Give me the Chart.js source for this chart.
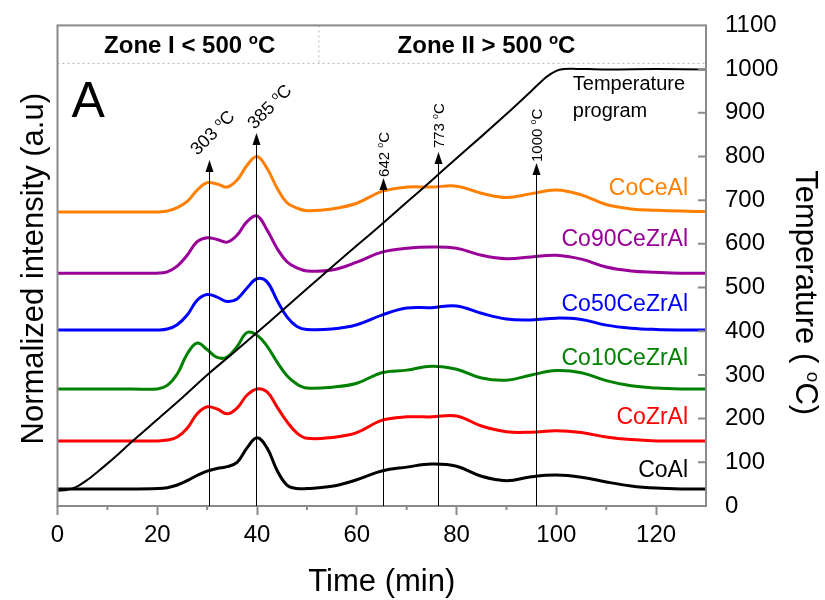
<!DOCTYPE html>
<html><head><meta charset="utf-8">
<script src="https://cdn.jsdelivr.net/npm/chart.js@4"></script>
<style>html,body{margin:0;padding:0;background:#fff}</style>
</head><body>
<canvas id="c" width="825" height="600"></canvas>
<script>
// ---------- data ----------
const times = [0,5,10,15,20,22,24,26,28,30,32,34,36,38,40,42,44,46,48,50,55,60,65,70,75,80,85,90,95,100,105,110,115,120,125,130];
const coAl      = [39,39,39,39,40,42,48,58,70,80,86,90,100,133,156,133,82,48,40,40,45,60,80,89,96,91,68,58,67,71,66,55,46,41,39,39];
const coZrAl    = [149,149,149,149,149,151,158,178,211,227,222,211,224,254,268,261,227,193,167,155,157,168,196,204,204,206,183,170,169,172,168,158,152,149,149,149];
const co10CeZrAl= [268,268,268,268,268,276,302,348,373,358,340,341,365,397,391,366,330,298,279,270,272,281,305,311,320,313,293,288,300,310,305,287,275,270,268,268];
const co50CeZrAl= [403,403,403,403,403,405,415,437,471,484,478,468,474,499,520,513,471,433,411,404,405,415,437,453,454,458,441,428,426,430,427,414,407,404,403,403];
const co90CeZrAl= [533,533,533,533,533,536,549,574,605,614,610,604,620,651,664,632,590,559,545,538,540,558,581,590,593,590,574,566,570,574,565,547,538,535,533,533];
const coCeAl    = [673,673,673,673,673,675,683,697,723,740,737,730,746,780,800,773,728,694,682,676,680,693,720,730,730,732,716,706,715,723,712,690,680,677,675,674];

const tempTimes  = [0,2,4,6,8,10,12,15,20,25,30,35,40,45,50,55,60,65,70,75,80,85,90,95,98,100,101.5,103,110,120,130];
const tempValues = [35,37,45,60,78,97,117,148,198,248,300,348,397,447,497,547,596,645,695,745,796,846,897,950,982,996,1000,1001,999,1000,999];

const seriesNames  = ['CoAl','CoZrAl','Co10CeZrAl','Co50CeZrAl','Co90CeZrAl','CoCeAl'];
const seriesColors = ['#000000','#ff0000','#008000','#0000ff','#990099','#ff8000'];
const seriesLabelLevels = [66,188,323,446,595,712];

const peakTimes  = [30.4, 39.7, 65.2, 76.2, 96.0];
const peakTips   = [792, 854, 751, 810, 785];
const peakLabels = ['303 ºC','385 ºC','642 ºC','773 ºC','1000 ºC'];

const xMin = 0, xMax = 130, xStep = 20;
const tMin = 0, tMax = 1100, tStep = 100;
const zoneDivideTime = 52.4, headerLevel = 1013;

// ---------- drawing helpers ----------
const FONT = '"Liberation Sans", Arial, Helvetica, sans-serif';
function rich(ctx, text, x, y, size, o) {
  o = o || {};
  const weight = o.weight || 'normal';
  const parts = []; let buf = '';
  for (const ch of text) {
    if (ch === 'º') { if (buf) parts.push({t: buf, s: false}); buf = ''; parts.push({t: 'o', s: true}); }
    else buf += ch;
  }
  if (buf) parts.push({t: buf, s: false});
  const nf = weight + ' ' + size + 'px ' + FONT;
  const sf = weight + ' ' + Math.round(size * 0.62) + 'px ' + FONT;
  let total = 0;
  for (const p of parts) { ctx.font = p.s ? sf : nf; p.w = ctx.measureText(p.t).width; total += p.w; }
  ctx.save();
  ctx.translate(x, y); ctx.rotate(o.rot || 0);
  ctx.fillStyle = o.color || '#000'; ctx.textBaseline = 'alphabetic'; ctx.textAlign = 'left';
  let cx = o.align === 'right' ? -total : (o.align === 'center' ? -total / 2 : 0);
  for (const p of parts) { ctx.font = p.s ? sf : nf; ctx.fillText(p.t, cx, p.s ? -size * 0.36 : 0); cx += p.w; }
  ctx.restore();
}

const labelStyles = [
  {rot: -Math.PI/4, dx: -12, dy: -4, size: 18},
  {rot: -Math.PI/4, dx: -2,  dy: -3, size: 18},
  {rot: -Math.PI/2, dx: 5,   dy: -1, size: 15},
  {rot: -Math.PI/2, dx: 5,   dy: -4, size: 15},
  {rot: -Math.PI/2, dx: 5,   dy: -1, size: 15}
];

const decor = {
  id: 'decor',
  afterDatasetsDraw(chart) {
    const ctx = chart.ctx, xs = chart.scales.x, yT = chart.scales.yT, a = chart.chartArea;
    ctx.save();
    // header band dashed lines
    ctx.strokeStyle = '#b5b5b5'; ctx.lineWidth = 1; ctx.setLineDash([2, 3]);
    const yH = yT.getPixelForValue(headerLevel);
    const xD = xs.getPixelForValue(zoneDivideTime);
    ctx.beginPath(); ctx.moveTo(a.left, yH); ctx.lineTo(a.right, yH);
    ctx.moveTo(xD, a.top); ctx.lineTo(xD, yH); ctx.stroke();
    ctx.setLineDash([]);
    // frame
    ctx.strokeStyle = '#8a8a8a'; ctx.lineWidth = 2;
    ctx.strokeRect(a.left, a.top, a.right - a.left, a.bottom - a.top);
    // minor x ticks
    ctx.beginPath();
    for (let v = xMin + xStep / 2; v < xMax; v += xStep) {
      const px = xs.getPixelForValue(v);
      ctx.moveTo(px, a.bottom); ctx.lineTo(px, a.bottom + 4);
    }
    ctx.stroke();
    // inward right ticks
    ctx.beginPath();
    for (let v = tMin + tStep; v < tMax; v += tStep) {
      const py = yT.getPixelForValue(v);
      ctx.moveTo(a.right, py); ctx.lineTo(a.right - 8, py);
    }
    ctx.stroke();
    // arrows
    ctx.strokeStyle = '#000'; ctx.fillStyle = '#000'; ctx.lineWidth = 1;
    peakTimes.forEach((t, i) => {
      const px = Math.round(xs.getPixelForValue(t)) + 0.5;
      const tip = yT.getPixelForValue(peakTips[i]);
      ctx.beginPath(); ctx.moveTo(px, a.bottom); ctx.lineTo(px, tip + 10); ctx.stroke();
      ctx.beginPath(); ctx.moveTo(px, tip); ctx.lineTo(px - 4, tip + 12); ctx.lineTo(px + 4, tip + 12); ctx.closePath(); ctx.fill();
      const st = labelStyles[i];
      rich(ctx, peakLabels[i], px + st.dx, tip + st.dy, st.size, {rot: st.rot});
    });
    // zone texts
    rich(ctx, 'Zone I < 500 ºC', xs.getPixelForValue(26.5), yT.getPixelForValue(1037), 24, {weight: 'bold', align: 'center'});
    rich(ctx, 'Zone II > 500 ºC', xs.getPixelForValue(86), yT.getPixelForValue(1037), 24, {weight: 'bold', align: 'center'});
    // panel letter
    rich(ctx, 'A', xs.getPixelForValue(2.8), yT.getPixelForValue(890), 50);
    // temperature program text
    rich(ctx, 'Temperature', xs.getPixelForValue(103.3), yT.getPixelForValue(952), 20);
    rich(ctx, 'program', xs.getPixelForValue(103.3), yT.getPixelForValue(890), 20);
    // series labels
    seriesNames.forEach((n, i) => {
      rich(ctx, n, xs.getPixelForValue(126.4), yT.getPixelForValue(seriesLabelLevels[i]), 23, {align: 'right', color: seriesColors[i]});
    });
    // axis titles
    rich(ctx, 'Normalized intensity (a.u)', 43, (a.top + a.bottom) / 2 + 3, 31, {rot: -Math.PI / 2, align: 'center'});
    rich(ctx, 'Temperature ( ºC)', 796, (a.top + a.bottom) / 2 + 27, 31, {rot: Math.PI / 2, align: 'center'});
    rich(ctx, 'Time (min)', (a.left + a.right) / 2, 591, 31, {align: 'center'});
    ctx.restore();
  }
};

const seriesData = [coAl, coZrAl, co10CeZrAl, co50CeZrAl, co90CeZrAl, coCeAl];
const datasets = [{
  label: 'Temperature program',
  data: tempTimes.map((t, i) => ({x: t, y: tempValues[i]})),
  yAxisID: 'yT', borderColor: '#000', borderWidth: 2, pointRadius: 0,
  tension: 0.3, fill: false
}];
seriesData.forEach((arr, i) => {
  datasets.push({
    label: seriesNames[i],
    data: times.map((t, j) => ({x: t, y: arr[j]})),
    yAxisID: 'yI', borderColor: seriesColors[i], borderWidth: 3, pointRadius: 0,
    tension: 0.4, fill: false
  });
});

new Chart(document.getElementById('c'), {
  type: 'line',
  data: {datasets},
  options: {
    responsive: false, animation: false,
    layout: {padding: {top: 25, left: 0, right: 0, bottom: 0}},
    plugins: {legend: {display: false}, tooltip: {enabled: false}},
    scales: {
      x: {
        type: 'linear', position: 'bottom', min: xMin, max: xMax,
        ticks: {stepSize: xStep, includeBounds: false, color: '#000', padding: 6, maxRotation: 0, font: {family: FONT, size: 24}},
        grid: {display: true, drawOnChartArea: false, drawTicks: true, tickLength: 9, tickColor: '#8a8a8a', tickWidth: 2},
        border: {display: false},
        afterFit(s) { s.height = 94; }
      },
      yI: {
        type: 'linear', position: 'left', min: tMin, max: tMax,
        ticks: {display: false}, grid: {display: false}, border: {display: false},
        afterFit(s) { s.width = 57.5; }
      },
      yT: {
        type: 'linear', position: 'right', min: tMin, max: tMax,
        ticks: {stepSize: tStep, includeBounds: false, color: '#000', padding: 11, font: {family: FONT, size: 24},
                callback: v => String(v)},
        grid: {display: false}, border: {display: false},
        afterFit(s) { s.width = 119; }
      }
    }
  },
  plugins: [decor]
});
</script>
</body></html>
